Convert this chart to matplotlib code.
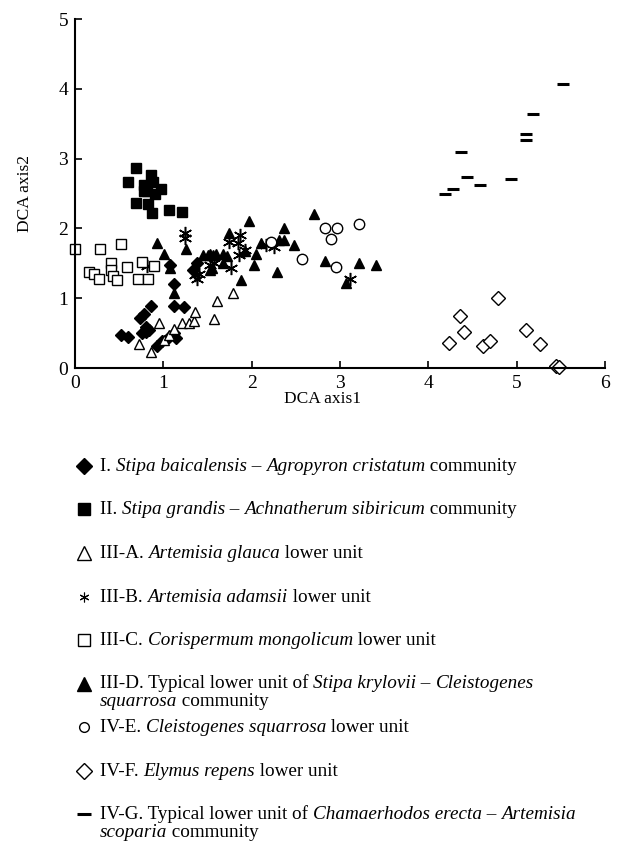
import matplotlib
matplotlib.use('Agg')
import matplotlib.pyplot as plt
from matplotlib.lines import Line2D
from matplotlib.font_manager import FontProperties

plt.rcParams['font.family'] = 'Liberation Serif'

# --- Data ---
g1_x = [0.86, 1.12, 1.23, 0.78, 0.74, 0.80, 0.84, 0.52, 0.60, 0.76, 0.80, 0.93, 0.99, 1.06, 1.12, 1.14, 1.12, 1.08, 1.38, 1.34]
g1_y = [0.89, 0.89, 0.88, 0.78, 0.71, 0.59, 0.55, 0.47, 0.45, 0.50, 0.52, 0.32, 0.38, 0.45, 0.50, 0.43, 1.21, 1.47, 1.50, 1.40]

g2_x = [0.69, 0.60, 0.86, 0.78, 0.88, 0.97, 0.82, 0.91, 0.78, 0.69, 0.83, 0.87, 1.06, 1.21]
g2_y = [2.86, 2.67, 2.76, 2.62, 2.67, 2.57, 2.53, 2.50, 2.53, 2.36, 2.35, 2.22, 2.27, 2.24]

g3a_x = [0.72, 0.86, 0.95, 1.01, 1.06, 1.12, 1.21, 1.29, 1.35, 1.36, 1.57, 1.61, 1.79]
g3a_y = [0.35, 0.23, 0.64, 0.40, 0.47, 0.56, 0.64, 0.64, 0.67, 0.80, 0.70, 0.96, 1.08]

g3b_x = [1.25, 1.25, 0.82, 1.36, 1.38, 1.53, 1.57, 1.74, 1.87, 1.85, 1.92, 1.86, 1.77, 2.16, 2.25, 3.11, 1.40]
g3b_y = [1.93, 1.86, 1.46, 1.33, 1.28, 1.47, 1.50, 1.81, 1.91, 1.79, 1.69, 1.62, 1.43, 1.76, 1.73, 1.28, 1.35]

g3c_x = [0.00, 0.28, 0.52, 0.16, 0.21, 0.27, 0.41, 0.41, 0.43, 0.47, 0.59, 0.76, 0.71, 0.83, 0.89]
g3c_y = [1.70, 1.70, 1.78, 1.38, 1.35, 1.27, 1.50, 1.41, 1.32, 1.26, 1.44, 1.52, 1.27, 1.28, 1.46]

g3d_x = [0.93, 1.01, 1.08, 1.12, 1.26, 1.45, 1.51, 1.56, 1.53, 1.53, 1.60, 1.68, 1.55, 1.68, 1.72, 1.74,
         1.92, 1.97, 2.10, 2.05, 2.03, 2.29, 1.88, 2.37, 2.31, 2.37, 2.48, 2.70, 2.83, 3.07, 3.21, 3.41]
g3d_y = [1.79, 1.63, 1.43, 1.07, 1.71, 1.62, 1.62, 1.62, 1.40, 1.64, 1.64, 1.64, 1.43, 1.50, 1.60, 1.93,
         1.67, 2.10, 1.79, 1.64, 1.47, 1.38, 1.26, 2.00, 1.83, 1.83, 1.76, 2.21, 1.53, 1.22, 1.50, 1.48]

g4e_x = [2.83, 2.97, 3.22, 2.90, 2.95, 2.57, 2.22]
g4e_y = [2.01, 2.01, 2.06, 1.85, 1.44, 1.56, 1.81]

g4f_x = [4.79, 4.36, 4.40, 4.23, 4.62, 4.70, 5.10, 5.26, 5.44, 5.48]
g4f_y = [1.00, 0.75, 0.51, 0.36, 0.32, 0.39, 0.55, 0.34, 0.03, 0.01]

g4g_x = [5.53, 5.19, 5.10, 5.10, 4.37, 4.44, 4.59, 4.94, 4.28, 4.19]
g4g_y = [4.07, 3.64, 3.35, 3.26, 3.10, 2.74, 2.62, 2.71, 2.57, 2.50]

x_ticks = [0, 1, 2, 3, 4, 5, 6]
y_ticks = [0, 1, 2, 3, 4, 5]

legend_entries = [
    [("I. ", False), ("Stipa baicalensis", True), (" – ", False), ("Agropyron cristatum", True), (" community", False)],
    [("II. ", False), ("Stipa grandis", True), (" – ", False), ("Achnatherum sibiricum", True), (" community", False)],
    [("III-A. ", False), ("Artemisia glauca", True), (" lower unit", False)],
    [("III-B. ", False), ("Artemisia adamsii", True), (" lower unit", False)],
    [("III-C. ", False), ("Corispermum mongolicum", True), (" lower unit", False)],
    [("III-D. Typical lower unit of ", False), ("Stipa krylovii", True), (" – ", False), ("Cleistogenes", True)],
    [("IV-E. ", False), ("Cleistogenes squarrosa", True), (" lower unit", False)],
    [("IV-F. ", False), ("Elymus repens", True), (" lower unit", False)],
    [("IV-G. Typical lower unit of ", False), ("Chamaerhodos erecta", True), (" – ", False), ("Artemisia", True)],
]
legend_second = {
    5: [("squarrosa", True), (" community", False)],
    8: [("scoparia", True), (" community", False)],
}

W, H = 624, 847
fig = plt.figure(figsize=(W / 100, H / 100), dpi=100)
ax = fig.add_axes([75 / W, 1 - 368 / H, 530 / W, 349 / H])

# marker styles per group: (marker, size, face, edge, mew)
styles = [
    ('D', 6.3, 'black', 'black', 1.0),
    ('s', 7.0, 'black', 'black', 1.0),
    ('^', 7.5, 'white', 'black', 1.0),
    ((6, 2, 0), 9.5, 'black', 'black', 1.1),
    ('s', 7.3, 'white', 'black', 1.0),
    ('^', 7.5, 'black', 'black', 1.0),
    ('o', 7.5, 'white', 'black', 1.0),
    ('D', 6.8, 'white', 'black', 1.0),
    ('_', 8.5, 'black', 'black', 2.2),
]
groups = [(g1_x, g1_y), (g2_x, g2_y), (g3a_x, g3a_y), (g3b_x, g3b_y), (g3c_x, g3c_y),
          (g3d_x, g3d_y), (g4e_x, g4e_y), (g4f_x, g4f_y), (g4g_x, g4g_y)]

for (gx, gy), (m, ms, fc, ec, mew) in zip(groups, styles):
    ax.plot(gx, gy, linestyle='none', marker=m, markersize=ms, markerfacecolor=fc,
            markeredgecolor=ec, markeredgewidth=mew, clip_on=False)

ax.set_xlim(0, 6)
ax.set_ylim(0, 5)
ax.set_xticks(x_ticks)
ax.set_yticks(y_ticks)
ax.spines['top'].set_visible(False)
ax.spines['right'].set_visible(False)
for s in ['left', 'bottom']:
    ax.spines[s].set_linewidth(1.5)
ax.tick_params(direction='in', length=5, width=1.2, labelsize=14, pad=5)
ax.set_xlabel('DCA axis1', fontsize=12.5)
ax.xaxis.set_label_coords((322 - 75) / 530, -0.065)
ax.set_ylabel('DCA axis2', fontsize=12.5, labelpad=18)

# --- Legend below the plot, drawn piece by piece for mixed italics ---
renderer = fig.canvas.get_renderer()
LEG_SIZE = 13.8


def text_width(s, italic):
    fp = FontProperties(family='Liberation Serif', style='italic' if italic else 'normal', size=LEG_SIZE)
    w1, _, _ = renderer.get_text_width_height_descent(s + '|', fp, ismath=False)
    w2, _, _ = renderer.get_text_width_height_descent('|', fp, ismath=False)
    return w1 - w2


def rich_text(px, py, parts):
    x = px
    for s, it in parts:
        fig.text(x / W, 1 - py / H, s, fontsize=LEG_SIZE, style='italic' if it else 'normal',
                 va='baseline', ha='left')
        x += text_width(s, it)


leg_markers = [
    ('D', 8.5, 'black', 'black', 1.0),
    ('s', 8.5, 'black', 'black', 1.0),
    ('^', 9.5, 'white', 'black', 1.0),
    ((6, 2, 0), 7, 'black', 'black', 0.8),
    ('s', 8, 'white', 'black', 1.0),
    ('^', 10.5, 'black', 'black', 1.0),
    ('o', 7, 'white', 'black', 1.0),
    ('D', 8.5, 'white', 'black', 1.0),
    ('_', 10, 'black', 'black', 2.2),
]

row0 = 466
row_step = 43.5
for i, parts in enumerate(legend_entries):
    yc = row0 + i * row_step
    m, ms, fc, ec, mew = leg_markers[i]
    fig.add_artist(Line2D([84 / W], [1 - yc / H], transform=fig.transFigure, linestyle='none',
                          marker=m, markersize=ms, markerfacecolor=fc, markeredgecolor=ec,
                          markeredgewidth=mew))
    rich_text(100, yc + 5, parts)
    if i in legend_second:
        rich_text(100, yc + 23, legend_second[i])

fig.savefig('out.png', dpi=100)
